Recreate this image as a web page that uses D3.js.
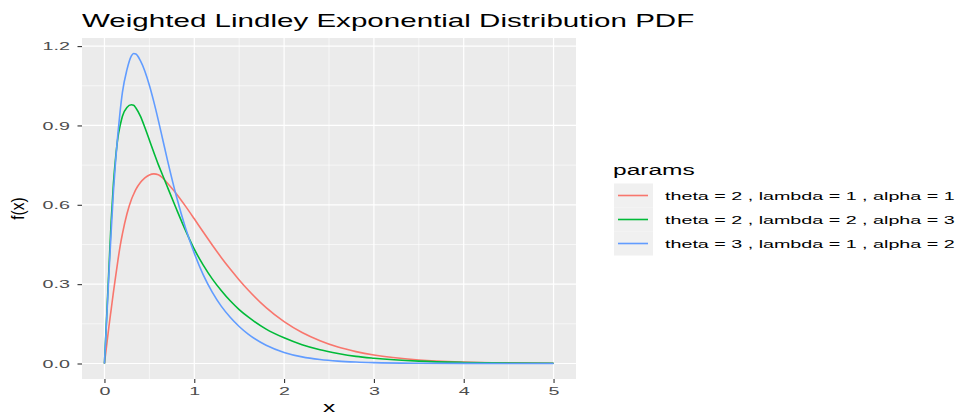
<!DOCTYPE html>
<meta charset="utf-8">

<!-- Load d3.js -->
<script src="https://d3js.org/d3.v7.min.js"></script>

<style>
  body { margin: 0; background: #ffffff; }
  text { font-family: "Liberation Sans", Arial, Helvetica, sans-serif; }
</style>

<!-- Create a div where the graph will take place -->
<div id="chart"></div>

<script>
// Data
var xs = [0, 0.025, 0.05, 0.075, 0.1, 0.125, 0.15, 0.175, 0.2, 0.25, 0.3, 0.325, 0.35, 0.4, 0.45,
          0.5, 0.55, 0.6, 0.65, 0.7, 0.8, 0.9, 1.0, 1.1, 1.2, 1.3, 1.4, 1.5, 1.6, 1.8,
          2.0, 2.2, 2.4, 2.6, 2.8, 3.0, 3.5, 4.0, 4.5, 5.0];

var redVals = [0, 0.07, 0.14, 0.205, 0.27, 0.33, 0.39, 0.445, 0.49, 0.565, 0.62, 0.64, 0.658, 0.684, 0.702,
               0.713, 0.717, 0.714, 0.701, 0.682, 0.642, 0.596, 0.547, 0.497, 0.448, 0.401, 0.357, 0.316, 0.278, 0.211,
               0.158, 0.117, 0.086, 0.062, 0.045, 0.032, 0.0135, 0.0055, 0.0022, 0.0009];

var greenVals = [0, 0.18, 0.36, 0.54, 0.68, 0.78, 0.855, 0.9, 0.935, 0.968, 0.978, 0.976, 0.966, 0.935, 0.892,
                 0.845, 0.798, 0.752, 0.71, 0.668, 0.585, 0.505, 0.432, 0.372, 0.32, 0.276, 0.237, 0.204, 0.176, 0.13,
                 0.097, 0.071, 0.052, 0.038, 0.027, 0.02, 0.009, 0.004, 0.0017, 0.0007];

var blueVals = [0, 0.17, 0.34, 0.5, 0.65, 0.77, 0.87, 0.955, 1.025, 1.11, 1.163, 1.172, 1.17, 1.145, 1.105,
                1.052, 0.989, 0.919, 0.845, 0.771, 0.633, 0.515, 0.417, 0.335, 0.27, 0.217, 0.175, 0.14, 0.111, 0.069,
                0.042, 0.025, 0.015, 0.009, 0.0055, 0.0033, 0.001, 0.0003, 0.0001, 0];

var seriesNames = ["theta = 2 , lambda = 1 , alpha = 1",
                   "theta = 2 , lambda = 2 , alpha = 3",
                   "theta = 3 , lambda = 1 , alpha = 2"];
var seriesColors = ["#F8766D", "#00BA38", "#619CFF"];

var xTicks = [0, 1, 2, 3, 4, 5];
var xMinor = [0.5, 1.5, 2.5, 3.5, 4.5];
var yTicks = [0, 0.3, 0.6, 0.9, 1.2];
var yMinor = [0.15, 0.45, 0.75, 1.05];

var series = [redVals, greenVals, blueVals].map(function(vals, i) {
  return { name: seriesNames[i], color: seriesColors[i],
           values: xs.map(function(xv, j) { return { x: xv, y: vals[j] }; }) };
});

// Set dims
var width = 963, height = 414;
var panel = { left: 82, right: 576, top: 38, bottom: 379 };
var sx = 1.67; // horizontal text in the reference is drawn wide

var svg = d3.select("#chart").append("svg")
    .attr("width", width)
    .attr("height", height);

// Scales, ggplot style 5% expansion
var xMax = d3.max(xs);
var yMax = d3.max(series, function(s) { return d3.max(s.values, function(d) { return d.y; }); });
var x = d3.scaleLinear()
  .domain([-0.05 * xMax, xMax * 1.05])
  .range([panel.left, panel.right]);
var y = d3.scaleLinear()
  .domain([-0.05 * yMax, yMax * 1.05])
  .range([panel.bottom, panel.top]);

// Panel background and grid
svg.append("rect")
  .attr("x", panel.left).attr("y", panel.top)
  .attr("width", panel.right - panel.left)
  .attr("height", panel.bottom - panel.top)
  .attr("fill", "#EBEBEB");

var grid = svg.append("g");
grid.selectAll(".vminor").data(xMinor).enter().append("line")
  .attr("x1", function(d) { return x(d); }).attr("x2", function(d) { return x(d); })
  .attr("y1", panel.top).attr("y2", panel.bottom)
  .attr("stroke", "#fff").attr("stroke-width", 0.6);
grid.selectAll(".hminor").data(yMinor).enter().append("line")
  .attr("y1", function(d) { return y(d); }).attr("y2", function(d) { return y(d); })
  .attr("x1", panel.left).attr("x2", panel.right)
  .attr("stroke", "#fff").attr("stroke-width", 0.6);
grid.selectAll(".vmajor").data(xTicks).enter().append("line")
  .attr("x1", function(d) { return x(d); }).attr("x2", function(d) { return x(d); })
  .attr("y1", panel.top).attr("y2", panel.bottom)
  .attr("stroke", "#fff").attr("stroke-width", 1.2);
grid.selectAll(".hmajor").data(yTicks).enter().append("line")
  .attr("y1", function(d) { return y(d); }).attr("y2", function(d) { return y(d); })
  .attr("x1", panel.left).attr("x2", panel.right)
  .attr("stroke", "#fff").attr("stroke-width", 1.2);

// Lines
var line = d3.line()
  .x(function(d) { return x(d.x); })
  .y(function(d) { return y(d.y); })
  .curve(d3.curveMonotoneX);

svg.selectAll(".curve").data(series).enter().append("path")
  .attr("d", function(d) { return line(d.values); })
  .attr("fill", "none")
  .attr("stroke", function(d) { return d.color; })
  .attr("stroke-width", 1.6);

// X axis
var xAxis = svg.append("g")
  .attr("transform", "translate(0," + panel.bottom + ")")
  .call(d3.axisBottom(x).tickValues(xTicks).tickSize(4).tickFormat(d3.format("d")));
xAxis.select(".domain").remove();
xAxis.selectAll("line").attr("stroke", "#333333").attr("stroke-width", 1.1);
xAxis.selectAll("text")
  .attr("y", 16).attr("dy", null)
  .attr("transform", "scale(" + sx + ",1)")
  .attr("fill", "#4D4D4D")
  .style("font-size", "11.8px");

// Y axis
var yAxis = svg.append("g")
  .attr("transform", "translate(" + panel.left + ",0)")
  .call(d3.axisLeft(y).tickValues(yTicks).tickSize(4.5).tickFormat(d3.format(".1f")));
yAxis.select(".domain").remove();
yAxis.selectAll("line").attr("stroke", "#333333").attr("stroke-width", 1.1);
yAxis.selectAll("text")
  .attr("x", -12 / sx)
  .attr("transform", "scale(" + sx + ",1)")
  .attr("fill", "#4D4D4D")
  .style("font-size", "11.8px");

// Helper for wide horizontal text
function wideText(px, py, str, size, anchor) {
  return svg.append("text")
    .attr("transform", "translate(" + px + "," + py + ") scale(" + sx + ",1)")
    .attr("text-anchor", anchor || "start")
    .style("font-size", size + "px")
    .attr("fill", "#000")
    .text(str);
}

// Title and axis titles
wideText(panel.left, 26.5, "Weighted Lindley Exponential Distribution PDF", 17.7);
wideText((panel.left + panel.right) / 2, 412, "x", 14.7, "middle");
svg.append("text")
  .attr("transform", "translate(24," + (panel.top + panel.bottom) / 2 + ") scale(1.2,1) rotate(-90)")
  .attr("text-anchor", "middle")
  .style("font-size", "15.5px")
  .text("f(x)");

// Legend
wideText(613, 175, "params", 14.7);
var keyH = 24, keyTop = 183.5;
var legend = svg.selectAll(".key").data(series).enter().append("g")
  .attr("transform", function(d, i) { return "translate(614," + (keyTop + i * keyH) + ")"; });
legend.append("rect")
  .attr("width", 39).attr("height", keyH)
  .attr("fill", "#F0F0F0");
legend.append("line")
  .attr("x1", 4).attr("x2", 34)
  .attr("y1", keyH / 2).attr("y2", keyH / 2)
  .attr("stroke", function(d) { return d.color; })
  .attr("stroke-width", 1.6);
series.forEach(function(s, i) {
  wideText(665, keyTop + i * keyH + keyH / 2 + 4.1, s.name, 11.8);
});
</script>
